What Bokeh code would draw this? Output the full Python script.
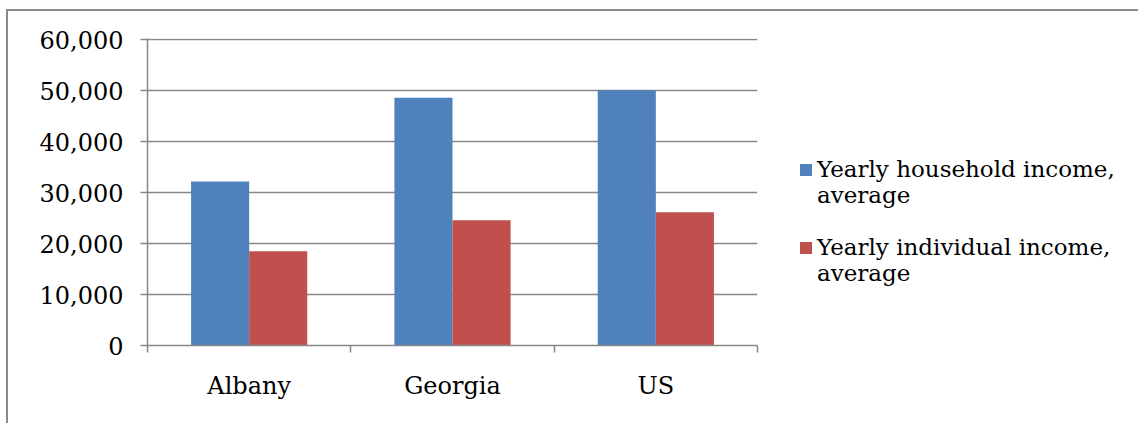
from bokeh.plotting import figure
from bokeh.models import FixedTicker, NumeralTickFormatter, Range1d, ColumnDataSource, Legend, LegendItem
from bokeh.embed import file_html
from bokeh.resources import INLINE

categories = ["Albany", "Georgia", "US"]
household = [32150, 48560, 50050]
individual = [18500, 24580, 26140]
series_names = ["Yearly household income,\naverage", "Yearly individual income,\naverage"]
y_ticks = [0, 10000, 20000, 30000, 40000, 50000, 60000]

BLUE = "#4F81BD"
RED = "#C0504D"
GRID = "#878787"
FONT = "DejaVu Serif"

n = len(categories)
bar_w = 1 / 3.5
centers = [i + 0.5 for i in range(n)]

src = ColumnDataSource(dict(
    cat=categories,
    xh=[c - bar_w / 2 for c in centers],
    xi=[c + bar_w / 2 for c in centers],
    household=household,
    individual=individual,
))

p = figure(width=1130, height=412, output_backend="svg", toolbar_location=None,
           x_range=Range1d(0, n), y_range=Range1d(0, 60200),
           frame_width=610, frame_height=307,
           min_border_left=139, min_border_right=381, min_border_top=27, min_border_bottom=78)
p.margin = (9, 0, 0, 6)
p.styles = {"border-top": "2px solid #8a8a8a", "border-left": "2px solid #8a8a8a"}
p.outline_line_color = None
p.background_fill_color = "white"

r1 = p.vbar(x="xh", top="household", width=bar_w, source=src, fill_color=BLUE, line_color=None)
r2 = p.vbar(x="xi", top="individual", width=bar_w, source=src, fill_color=RED, line_color=None)

# axes
p.xgrid.visible = False
p.ygrid.grid_line_color = GRID
p.ygrid.grid_line_width = 1.5
p.ygrid.ticker = FixedTicker(ticks=y_ticks)

ya = p.yaxis[0]
ya.ticker = FixedTicker(ticks=y_ticks)
ya.formatter = NumeralTickFormatter(format="0,0")
ya.axis_line_color = GRID
ya.axis_line_width = 1.5
ya.major_tick_line_color = GRID
ya.major_tick_line_width = 1.5
ya.major_tick_out = 7
ya.major_tick_in = 0
ya.minor_tick_line_color = None
ya.major_label_text_font = FONT
ya.major_label_text_font_size = "24px"
ya.major_label_text_color = "black"
ya.major_label_standoff = 17

xa = p.xaxis[0]
xa.ticker = FixedTicker(ticks=centers, minor_ticks=list(range(n + 1)))
xa.major_label_overrides = {c: cat for c, cat in zip(centers, categories)}
xa.axis_line_color = GRID
xa.axis_line_width = 1.5
xa.major_tick_line_color = None
xa.major_tick_out = 0
xa.major_tick_in = 0
xa.minor_tick_line_color = GRID
xa.minor_tick_line_width = 1.5
xa.minor_tick_out = 7
xa.minor_tick_in = 0
xa.major_label_text_font = FONT
xa.major_label_text_font_size = "24px"
xa.major_label_text_color = "black"
xa.major_label_standoff = 19

# a leading blank line keeps the legend swatch level with the first text line
lg = Legend(items=[LegendItem(label="\n" + series_names[0], renderers=[r1]),
                   LegendItem(label="\n" + series_names[1], renderers=[r2])],
            location=(41, 59))
lg.label_text_font = FONT
lg.label_text_font_size = "23px"
lg.label_text_color = "black"
lg.label_text_line_height = 1.28
lg.glyph_width = 15
lg.glyph_height = 15
lg.label_standoff = 4
lg.label_height = 20
lg.spacing = -17
lg.padding = 0
lg.margin = 0
lg.border_line_color = None
lg.background_fill_alpha = 0
p.add_layout(lg, "right")

open("out.html", "w").write(file_html(p, INLINE))
